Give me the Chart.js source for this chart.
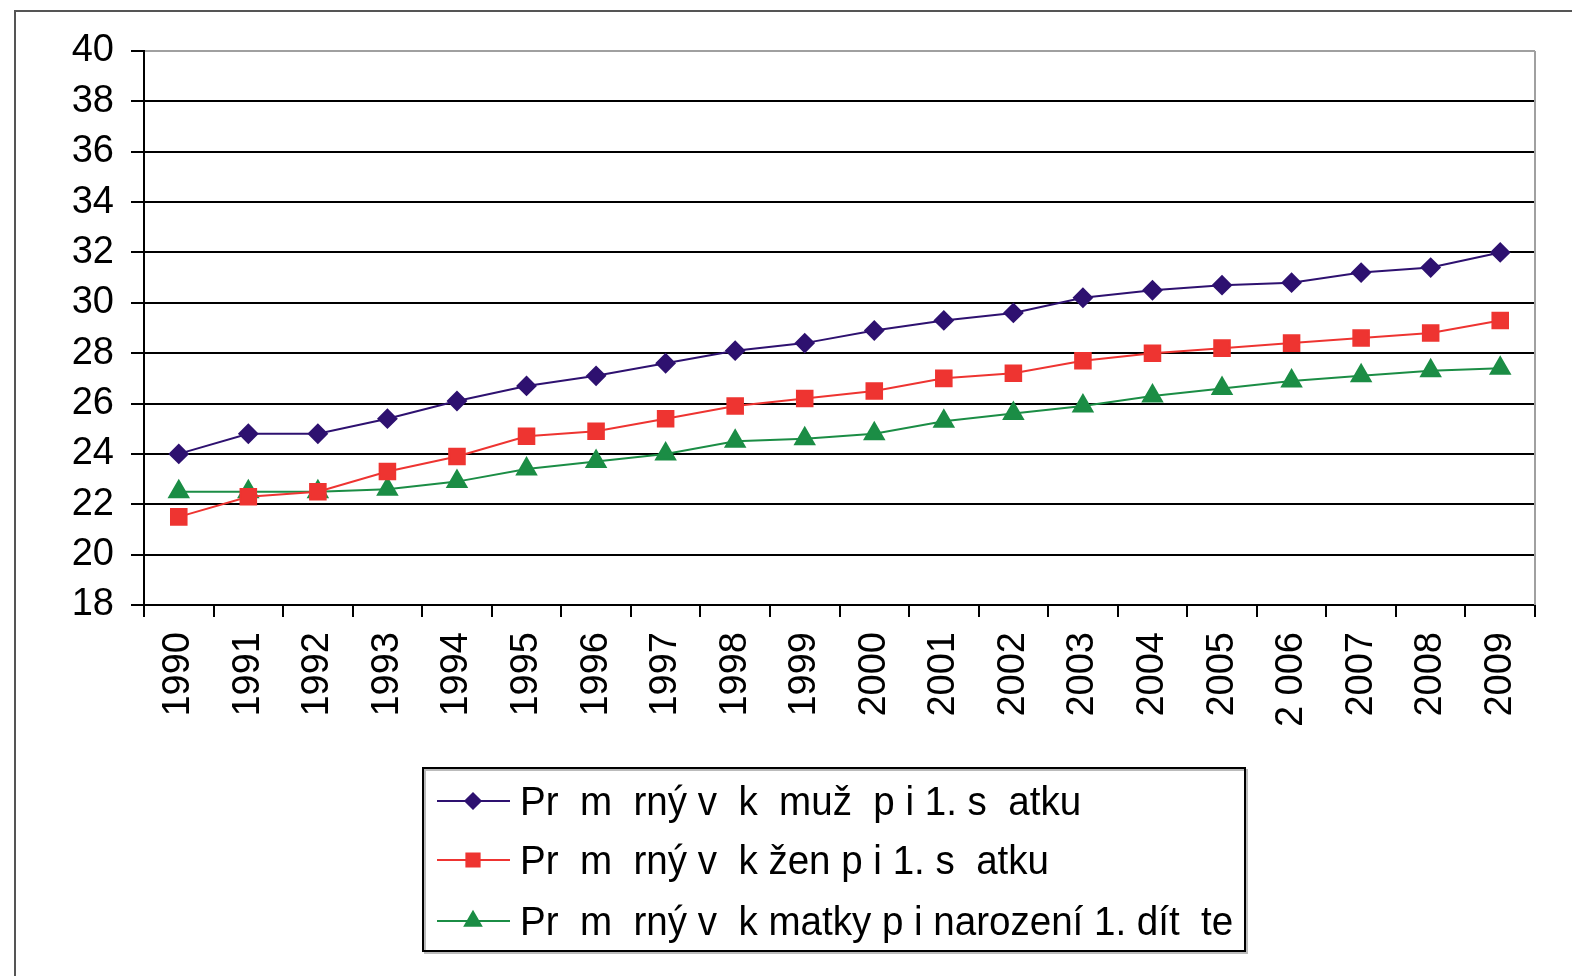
<!DOCTYPE html>
<html>
<head>
<meta charset="utf-8">
<script src="https://cdn.jsdelivr.net/npm/chart.js@4.4.0/dist/chart.umd.min.js"></script>
<style>
  html, body { margin: 0; padding: 0; background: #fff; }
  #wrap { width: 1572px; height: 976px; position: relative; }
</style>
</head>
<body>
<div id="wrap"><canvas id="chart" width="1572" height="976"></canvas></div>
<script>
var years = ["1990","1991","1992","1993","1994","1995","1996","1997","1998","1999",
             "2000","2001","2002","2003","2004","2005","2 006","2007","2008","2009"];

var men = [24.0,24.8,24.8,25.4,26.1,26.7,27.1,27.6,28.1,28.4,28.9,29.3,29.6,30.2,30.5,30.7,30.8,31.2,31.4,32.0];
var women = [21.5,22.3,22.5,23.3,23.9,24.7,24.9,25.4,25.9,26.2,26.5,27.0,27.2,27.7,28.0,28.2,28.4,28.6,28.8,29.3];
var mothers = [22.5,22.5,22.5,22.6,22.9,23.4,23.7,24.0,24.5,24.6,24.8,25.3,25.6,25.9,26.3,26.6,26.9,27.1,27.3,27.4];

var labelMen = "Pr  m  rný v  k  muž  p i 1. s  atku";
var labelWomen = "Pr  m  rný v  k žen p i 1. s  atku";
var labelMothers = "Pr  m  rný v  k matky p i narození 1. dít  te";

var yMin = 18, yMax = 40, yStep = 2;

// frame round the whole picture + grey plot border on the right
var framePlugin = {
  id: 'frame',
  beforeDraw: function (chart) {
    var ctx = chart.ctx;
    ctx.save();
    ctx.strokeStyle = '#555';
    ctx.lineWidth = 2;
    ctx.beginPath();
    ctx.moveTo(15, 990);
    ctx.lineTo(15, 11);
    ctx.lineTo(1590, 11);
    ctx.stroke();
    ctx.restore();
  },
  afterDatasetsDraw: function (chart) {
    var a = chart.chartArea, ctx = chart.ctx;
    ctx.save();
    ctx.strokeStyle = '#a0a0a0';
    ctx.lineWidth = 2;
    ctx.beginPath();
    ctx.moveTo(a.right, a.bottom);
    ctx.lineTo(a.right, a.top);
    ctx.stroke();
    ctx.restore();
  }
};

// boxed legend below the axis labels
var legendPlugin = {
  id: 'boxLegend',
  afterDraw: function (chart) {
    var ctx = chart.ctx;
    var x0 = 423, y0 = 768, w = 822, h = 183;
    ctx.save();
    ctx.strokeStyle = '#bbb';
    ctx.lineWidth = 2;
    ctx.strokeRect(x0 + 2, y0 + 2, w, h);
    ctx.strokeStyle = '#000';
    ctx.strokeRect(x0, y0, w, h);
    var rows = [801, 860, 921];
    chart.data.datasets.forEach(function (ds, i) {
      var y = rows[i];
      ctx.strokeStyle = ds.borderColor;
      ctx.lineWidth = 2;
      ctx.beginPath();
      ctx.moveTo(437, y);
      ctx.lineTo(510, y);
      ctx.stroke();
      ctx.fillStyle = ds.pointBackgroundColor;
      ctx.strokeStyle = ds.pointBackgroundColor;
      Chart.helpers.drawPoint(ctx, {pointStyle: ds.pointStyle, radius: ds.pointRadius * 0.85, borderWidth: 1}, 473, y);
      // narrow-ish text like the original
      ctx.save();
      ctx.translate(520, y + 3);
      ctx.scale(0.94, 1);
      ctx.fillStyle = '#000';
      ctx.font = '41px "Liberation Sans", Arial, sans-serif';
      ctx.textBaseline = 'middle';
      ctx.fillText(ds.label, 0, 0);
      ctx.restore();
    });
    ctx.restore();
  }
};

var ctx = document.getElementById("chart");
var chart = new Chart(ctx, {
  type: 'line',
  data: {
    labels: years,
    datasets: [
      {
        label: labelMen,
        data: men,
        borderColor: "#2e1170",
        backgroundColor: "#2e1170",
        pointBackgroundColor: "#2e1170",
        pointBorderColor: "#2e1170",
        pointStyle: 'rectRot',
        pointRadius: 9,
        borderWidth: 2,
        fill: false
      },
      {
        label: labelWomen,
        data: women,
        borderColor: "#ee3431",
        backgroundColor: "#ee3431",
        pointBackgroundColor: "#ee3431",
        pointBorderColor: "#ee3431",
        pointStyle: 'rect',
        pointRadius: 11,
        borderWidth: 2,
        fill: false
      },
      {
        label: labelMothers,
        data: mothers,
        borderColor: "#1b8d45",
        backgroundColor: "#1b8d45",
        pointBackgroundColor: "#1b8d45",
        pointBorderColor: "#1b8d45",
        pointStyle: 'triangle',
        pointRadius: 11,
        borderWidth: 2,
        fill: false
      }
    ]
  },
  options: {
    responsive: false,
    animation: false,
    layout: { padding: { left: 0, top: 51, right: 37, bottom: 0 } },
    plugins: {
      legend: { display: false },
      tooltip: { enabled: false }
    },
    scales: {
      x: {
        offset: true,
        grid: { offset: true, drawOnChartArea: false, drawTicks: true, tickLength: 12, color: '#000', lineWidth: 2 },
        border: { color: '#000', width: 2 },
        ticks: {
          minRotation: 90, maxRotation: 90, autoSkip: false, padding: 15,
          color: '#000',
          font: { family: '"Liberation Sans", Arial, sans-serif', size: 38 }
        },
        afterFit: function (scale) { scale.height = 371; }
      },
      y: {
        min: yMin, max: yMax,
        grid: {
          color: function (c) { return c.tick && c.tick.value === yMax ? '#a0a0a0' : '#000'; },
          lineWidth: 2, tickLength: 13, tickColor: '#000'
        },
        border: { color: '#000', width: 2 },
        ticks: {
          stepSize: yStep, padding: 17, color: '#000',
          font: { family: '"Liberation Sans", Arial, sans-serif', size: 38 }
        },
        afterFit: function (scale) { scale.width = 144; }
      }
    }
  },
  plugins: [framePlugin, legendPlugin]
});
</script>
</body>
</html>
